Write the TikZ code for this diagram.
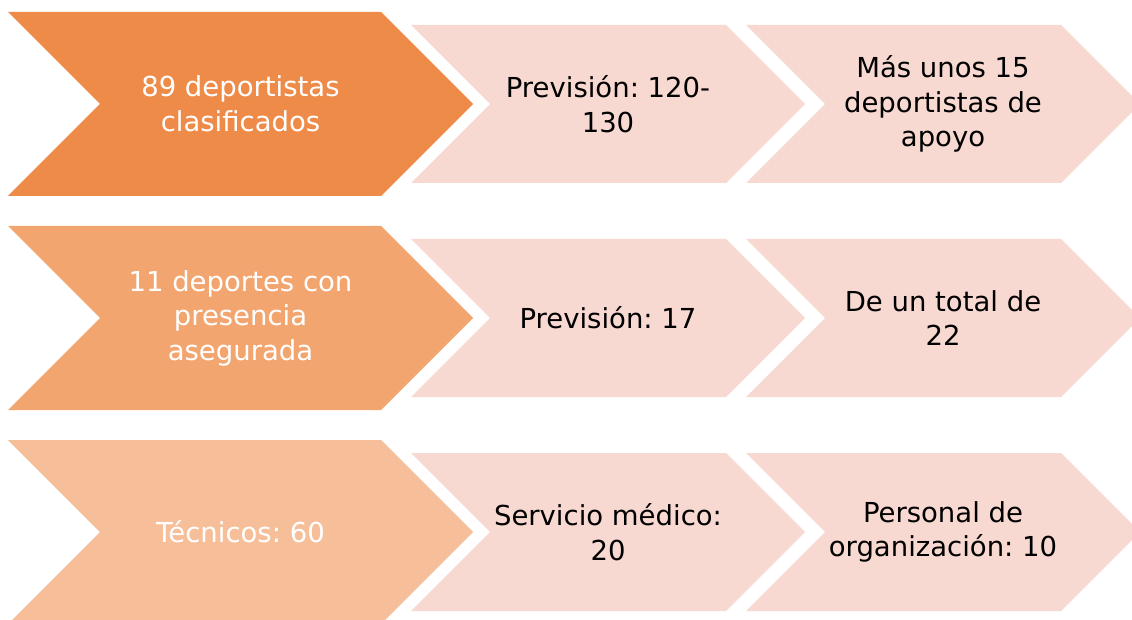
\documentclass[tikz,border=0pt]{standalone}
\usepackage{fontspec}
\setmainfont{DejaVu Sans}
\frenchspacing
\definecolor{orangeA}{HTML}{EF8B48}
\definecolor{orangeB}{HTML}{F2A56F}
\definecolor{orangeC}{HTML}{F6BF99}
\definecolor{pinkS}{HTML}{F8D9D1}
\tikzset{
  chevtext/.style={align=center,font=\fontsize{27.5}{34.5}\selectfont\frenchspacing,inner sep=0pt},
  bigtext/.style={chevtext,text=white},
  smalltext/.style={chevtext,text=black}
}
% #1 left x, #2 center y, #3 length (left to tip), #4 half height, #5 colour, #6 name
\newcommand\chevronshape[6]{%
  \fill[#5] (#1pt,{-#2pt+#4pt}) -- ({#1pt+#3pt-#4pt},{-#2pt+#4pt}) -- ({#1pt+#3pt},-#2pt)
    -- ({#1pt+#3pt-#4pt},{-#2pt-#4pt}) -- (#1pt,{-#2pt-#4pt}) -- ({#1pt+#4pt},-#2pt) -- cycle;
  \coordinate (#6) at ({#1pt+#3pt/2},-#2pt);
}
\begin{document}
\begin{tikzpicture}
\useasboundingbox (0,0) rectangle (1132pt,-620pt);
\clip (0,0) rectangle (1132pt,-620pt);
% row 1
\chevronshape{8}{104}{465}{92}{orangeA}{a1}
\chevronshape{411}{104}{394}{79}{pinkS}{b1}
\chevronshape{746}{104}{394}{79}{pinkS}{c1}
\node[bigtext] (ta1) at (a1) {89 deportistas\\clasificados};
\node[smalltext] (tb1) at (b1) {Previsión: 120-\\130};
\node[smalltext] (tc1) at (c1) {Más unos 15\\deportistas de\\apoyo};
% row 2
\chevronshape{8}{318}{465}{92}{orangeB}{a2}
\chevronshape{411}{318}{394}{79}{pinkS}{b2}
\chevronshape{746}{318}{394}{79}{pinkS}{c2}
\node[bigtext] (ta2) at (a2) {11 deportes con\\presencia\\asegurada};
\node[smalltext] (tb2) at (b2) {Previsión: 17};
\node[smalltext] (tc2) at (c2) {De un total de\\22};
% row 3
\chevronshape{8}{532}{465}{92}{orangeC}{a3}
\chevronshape{411}{532}{394}{79}{pinkS}{b3}
\chevronshape{746}{532}{394}{79}{pinkS}{c3}
\node[bigtext] (ta3) at (a3) {Técnicos: 60};
\node[smalltext] (tb3) at (b3) {Servicio médico:\\20};
\node[smalltext] (tc3) at (c3) {Personal de\\organización: 10};
\end{tikzpicture}
\end{document}
